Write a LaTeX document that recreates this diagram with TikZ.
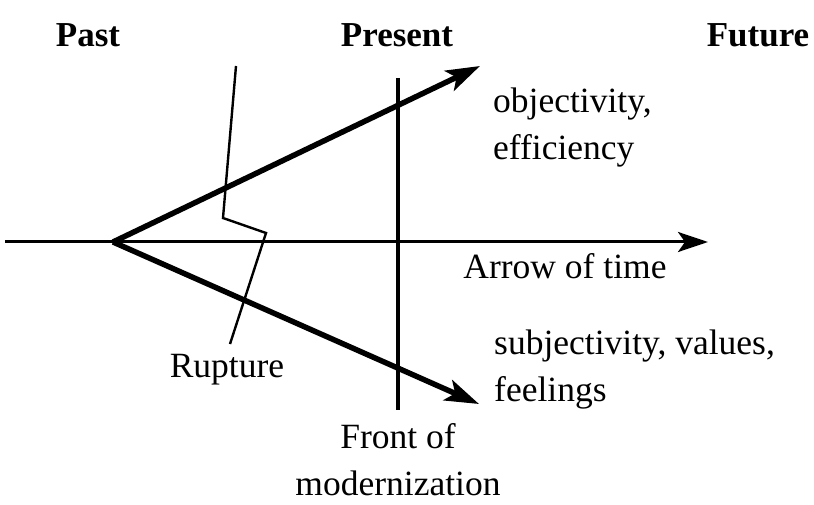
\documentclass[tikz,border=0pt]{standalone}
\usepackage{fontspec}
\setmainfont{Liberation Serif}
\usetikzlibrary{arrows.meta}
\begin{document}
\begin{tikzpicture}[x=1pt,y=-1pt,
  lbl/.style={font=\fontsize{35.5}{47}\selectfont, inner sep=0pt},
  head/.style={font=\fontsize{35}{40}\selectfont\bfseries, inner sep=0pt},
  bigarrow/.style={line width=5.5pt, -{Stealth[length=34pt,width=22pt,inset=8pt]}},
  axis/.style={line width=3pt, -{Stealth[length=30pt,width=20pt,inset=7pt]}},
  front/.style={line width=4pt},
  rupt/.style={line width=2.4pt, line join=miter}]
\useasboundingbox (0,0) rectangle (814,505);
% coordinates
\coordinate (start) at (5,242);
\coordinate (origin) at (113,242);
\coordinate (timeend) at (708,242);
\coordinate (upend) at (480,66);
\coordinate (downend) at (479,404);
\coordinate (ftop) at (398,78);
\coordinate (fbot) at (398,410);
\coordinate (r1) at (236,66);
\coordinate (r2) at (223,218);
\coordinate (r3) at (266,233);
\coordinate (r4) at (230,344);
% headings
\node[head, anchor=base] (past) at (88,47) {Past};
\node[head, anchor=base] (present) at (397,47) {Present};
\node[head, anchor=base] (future) at (758,47) {Future};
% lines
\draw[axis] (start) -- (timeend);
\draw[front] (ftop) -- (fbot);
\draw[rupt] (r1) -- (r2) -- (r3) -- (r4);
\draw[bigarrow] (origin) -- (upend);
\draw[bigarrow] (origin) -- (downend);
% labels
\node[lbl, anchor=base west, align=left] (obj) at (493,160) {objectivity,\\efficiency};
\node[lbl, anchor=base] (time) at (565,278) {Arrow of time};
\node[lbl, anchor=base] (rupture) at (227,377) {Rupture};
\node[lbl, anchor=base west, align=left] (subj) at (494,401) {subjectivity, values,\\feelings};
\node[lbl, anchor=base, align=center] (frontlbl) at (398,495) {Front of\\modernization};
\end{tikzpicture}
\end{document}
